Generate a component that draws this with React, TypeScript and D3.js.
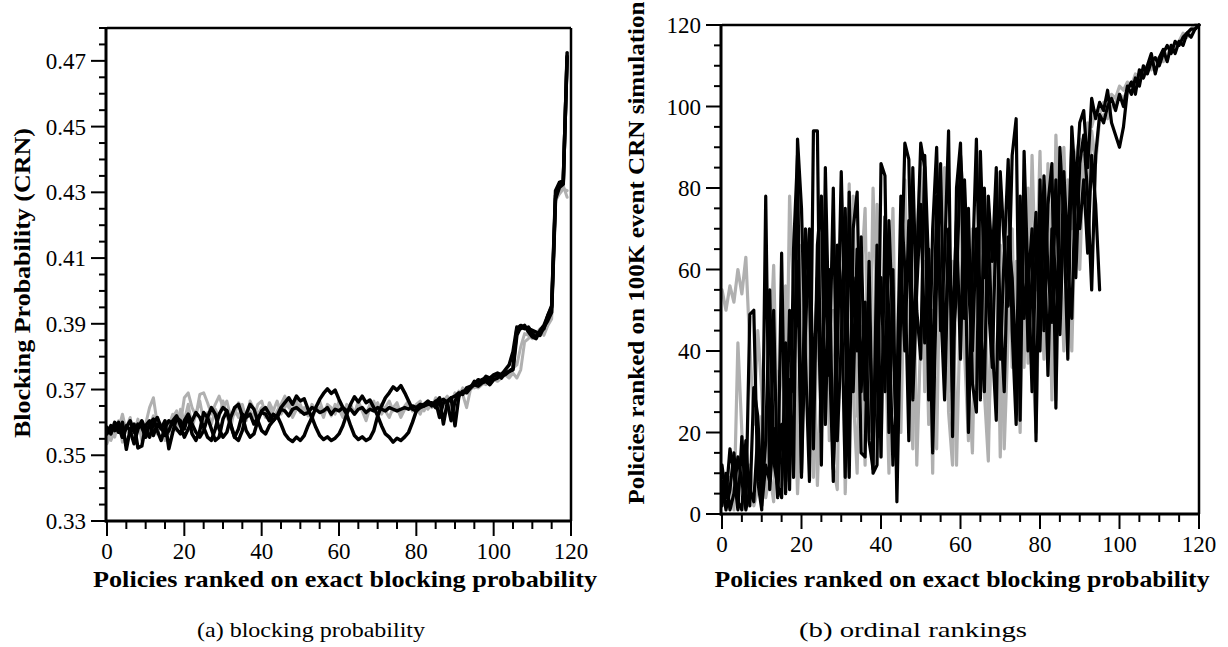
import React from "react";
import * as d3 from "d3";

// ---------- Panel (a): blocking probability (CRN), index = policy rank ----------
const leftBlack1 = [
  0.358, 0.3575, 0.359, 0.357, 0.36, 0.3518, 0.358, 0.3595, 0.3522, 0.3528,
  0.359, 0.3605, 0.356, 0.3595, 0.358, 0.3605, 0.352, 0.357, 0.3615, 0.3605,
  0.358, 0.362, 0.3565, 0.3545, 0.3575, 0.363, 0.3615, 0.358, 0.3545, 0.3555,
  0.361, 0.3635, 0.3595, 0.3555, 0.358, 0.3625, 0.3615, 0.3625, 0.3595, 0.3615,
  0.363, 0.3625, 0.3605, 0.3625, 0.3615, 0.364, 0.3635, 0.362, 0.364, 0.3645,
  0.3635, 0.3625, 0.363, 0.3645, 0.364, 0.363, 0.3635, 0.3645, 0.3625, 0.364,
  0.3635, 0.3645, 0.3635, 0.364, 0.3625, 0.364, 0.3645, 0.363, 0.364, 0.3635,
  0.3645, 0.364, 0.3635, 0.3645, 0.364, 0.3635, 0.364, 0.3645, 0.364, 0.365,
  0.3645, 0.3655, 0.365, 0.366, 0.365, 0.3665, 0.3615, 0.366, 0.3665, 0.3675,
  0.359, 0.368, 0.3695, 0.369, 0.3705, 0.3715, 0.371, 0.372, 0.3725, 0.3715,
  0.373, 0.3735, 0.3745, 0.3745, 0.3755, 0.376, 0.3865, 0.389, 0.3885, 0.389,
  0.387, 0.386, 0.3875, 0.3885, 0.3925, 0.395, 0.429, 0.432, 0.433, 0.4715,
];
const leftBlack2 = [
  0.3565, 0.359, 0.3575, 0.36, 0.3555, 0.3585, 0.3605, 0.357, 0.3595, 0.3585,
  0.3555, 0.3595, 0.361, 0.3575, 0.3545, 0.3585, 0.3605, 0.3595, 0.358, 0.3565,
  0.3605, 0.3625, 0.3595, 0.357, 0.3555, 0.3575, 0.3615, 0.3645, 0.3625, 0.358,
  0.3555, 0.357, 0.3615, 0.3645, 0.3655, 0.362, 0.3575, 0.3555, 0.3565, 0.3605,
  0.3635, 0.3645, 0.3625, 0.3605, 0.362, 0.3645, 0.366, 0.3675, 0.3655, 0.368,
  0.3665, 0.3672, 0.364, 0.3615, 0.3585, 0.356, 0.3548, 0.3556, 0.3545, 0.3552,
  0.3565, 0.359, 0.3625, 0.3655, 0.3678, 0.3662, 0.368, 0.366, 0.3668, 0.3645,
  0.362, 0.359, 0.3565, 0.3555, 0.354, 0.3552, 0.3545, 0.3556, 0.357, 0.36,
  0.3635, 0.3645, 0.365, 0.3655, 0.366, 0.3645, 0.3665, 0.367, 0.366, 0.3605,
  0.3665, 0.3685, 0.369, 0.37, 0.3705, 0.3725, 0.372, 0.373, 0.3735, 0.3725,
  0.374, 0.3745, 0.3735, 0.375, 0.3755, 0.3765, 0.3885, 0.3895, 0.389, 0.3885,
  0.388, 0.3875, 0.3865, 0.389, 0.391, 0.3935, 0.428, 0.4315, 0.4325, 0.4725,
];
const leftBlack3 = [
  0.3585, 0.3565, 0.36, 0.3585, 0.3555, 0.359, 0.3575, 0.3535, 0.358, 0.3605,
  0.3575, 0.3555, 0.3595, 0.3615, 0.3585, 0.356, 0.3575, 0.3605, 0.362, 0.359,
  0.3555, 0.358, 0.3605, 0.363, 0.3615, 0.3585, 0.3555, 0.3545, 0.358, 0.3625,
  0.3645, 0.3635, 0.359, 0.3555, 0.3545, 0.3575, 0.3625, 0.3655, 0.364, 0.3605,
  0.3575, 0.3565, 0.359, 0.3605, 0.362, 0.3595, 0.3565, 0.355, 0.3542, 0.3555,
  0.3545, 0.356, 0.359, 0.3615, 0.3645, 0.367, 0.3688, 0.3702, 0.3688, 0.3698,
  0.367, 0.3645, 0.3625, 0.359, 0.356, 0.3548, 0.3556, 0.3545, 0.3552, 0.3575,
  0.362, 0.365, 0.3675, 0.369, 0.3708, 0.3698, 0.3712, 0.369, 0.3665, 0.364,
  0.3635, 0.365, 0.3655, 0.3665, 0.3655, 0.366, 0.3675, 0.3595, 0.366, 0.3675,
  0.368, 0.369, 0.3685, 0.3705, 0.371, 0.3715, 0.373, 0.3725, 0.374, 0.3735,
  0.3745, 0.375, 0.3745, 0.376, 0.3775, 0.3815, 0.389, 0.3885, 0.3895, 0.3875,
  0.386, 0.3855, 0.388, 0.3895, 0.3925, 0.3955, 0.4305, 0.433, 0.4335, 0.471,
];
const leftGray1 = [
  0.3555, 0.3545, 0.3575, 0.358, 0.3625, 0.357, 0.3595, 0.3565, 0.361, 0.3545,
  0.3595, 0.3645, 0.3675, 0.3595, 0.358, 0.3605, 0.3565, 0.3615, 0.3635, 0.3595,
  0.3675, 0.369, 0.3645, 0.362, 0.3685, 0.369, 0.366, 0.3625, 0.3655, 0.368,
  0.3645, 0.3665, 0.3615, 0.3625, 0.366, 0.3645, 0.362, 0.3635, 0.3615, 0.3655,
  0.3665, 0.3625, 0.3645, 0.3605, 0.3635, 0.3655, 0.368, 0.3645, 0.3635, 0.3665,
  0.363, 0.3645, 0.362, 0.3655, 0.3635, 0.3645, 0.3615, 0.3655, 0.3645, 0.3625,
  0.3665, 0.363, 0.3645, 0.3655, 0.3625, 0.366, 0.364, 0.3625, 0.3655, 0.3645,
  0.366, 0.3625, 0.3645, 0.3665, 0.3635, 0.3645, 0.3615, 0.364, 0.3655, 0.3635,
  0.3645, 0.3625, 0.3655, 0.364, 0.366, 0.3645, 0.3665, 0.3655, 0.3675, 0.364,
  0.3675, 0.3695, 0.3685, 0.3645, 0.37, 0.371, 0.3705, 0.3715, 0.3725, 0.3715,
  0.373, 0.3725, 0.3735, 0.3745, 0.3735, 0.375, 0.3735, 0.376, 0.3845, 0.3855,
  0.3875, 0.3865, 0.388, 0.3865, 0.3895, 0.3915, 0.4275, 0.4295, 0.431, 0.4305,
];
const leftGray2 = [
  0.3535, 0.357, 0.3555, 0.3605, 0.354, 0.3585, 0.3615, 0.355, 0.358, 0.3605,
  0.3555, 0.3585, 0.362, 0.3565, 0.3595, 0.3545, 0.359, 0.3625, 0.3575, 0.364,
  0.3605, 0.3655, 0.3585, 0.3625, 0.3665, 0.3605, 0.363, 0.3595, 0.364, 0.3615,
  0.3665, 0.362, 0.3585, 0.364, 0.3615, 0.3655, 0.3605, 0.3665, 0.364, 0.3625,
  0.3645, 0.3615, 0.366, 0.3635, 0.3665, 0.3625, 0.3645, 0.3665, 0.3615, 0.364,
  0.3655, 0.3625, 0.364, 0.3605, 0.3645, 0.3665, 0.363, 0.3645, 0.362, 0.3655,
  0.364, 0.3615, 0.3655, 0.3645, 0.3625, 0.3665, 0.3635, 0.3605, 0.3645, 0.3665,
  0.3625, 0.3655, 0.3635, 0.3615, 0.3645, 0.366, 0.3625, 0.365, 0.3665, 0.3635,
  0.3655, 0.3665, 0.3635, 0.366, 0.3645, 0.3675, 0.364, 0.3665, 0.368, 0.3655,
  0.369, 0.3675, 0.3705, 0.369, 0.371, 0.3705, 0.3725, 0.372, 0.3715, 0.373,
  0.3745, 0.374, 0.375, 0.3755, 0.3745, 0.3765, 0.3775, 0.383, 0.387, 0.3865,
  0.3855, 0.387, 0.3885, 0.3875, 0.3905, 0.394, 0.4285, 0.4305, 0.432, 0.4285,
];

// ---------- Panel (b): ranks on 100K event CRN simulation, index = exact rank ----------
const rankBlack1 = [
  12, 4, 16, 10, 1, 19, 2, 49, 50, 8,
  1, 78, 6, 21, 4, 64, 5, 33, 9, 92,
  75, 38, 8, 94, 94, 12, 85, 40, 8, 66,
  55, 9, 79, 30, 65, 15, 14, 62, 10, 12,
  86, 83, 20, 60, 3, 52, 91, 87, 40, 62,
  91, 85, 28, 70, 90, 45, 63, 94, 19, 80,
  91, 48, 75, 32, 25, 89, 58, 70, 42, 23,
  84, 66, 51, 88, 97, 23, 89, 56, 70, 18,
  82, 45, 76, 86, 26, 90, 72, 38, 95, 80,
  96, 99, 85, 102, 97, 101, 99, 104, 96, 93,
  90, 95, 104, 106, 103, 109, 107, 110, 113, 108,
  112, 114, 111, 115, 113, 116, 115, 118, 117, 119, 120,
];
const rankBlack2 = [
  8, 1, 6, 15, 3, 1, 18, 2, 31, 24,
  4, 18, 55, 13, 7, 4, 42, 6, 65, 88,
  9, 70, 55, 16, 66, 78, 22, 60, 11, 38,
  84, 45, 9, 70, 79, 30, 52, 18, 11, 66,
  14, 73, 48, 12, 30, 78, 60, 18, 85, 50,
  38, 88, 60, 15, 58, 86, 35, 70, 40, 55,
  88, 72, 20, 60, 92, 47, 30, 78, 62, 85,
  38, 64, 87, 45, 22, 60, 81, 40, 58, 74,
  40, 83, 60, 47, 82, 50, 84, 64, 91, 58,
  86, 93, 78, 55, 88, 98, 96, 100, 102, 99,
  103, 100, 105, 103, 107, 105, 110, 108, 111, 112,
  110, 113, 115, 113, 116, 115, 117, 118, 119, 119, 120,
];
const rankBlack3 = [
  2, 10, 1, 5, 14, 8, 1, 6, 3, 20,
  2, 12, 8, 50, 5, 22, 8, 50, 30, 62,
  10, 45, 70, 30, 58, 20, 62, 34, 80, 18,
  42, 75, 24, 58, 40, 68, 28, 50, 16, 40,
  58, 30, 72, 45, 14, 62, 40, 72, 28, 55,
  76, 42, 65, 30, 78, 52, 28, 66, 45, 72,
  38, 82, 56, 40, 70, 28, 80, 52, 36, 74,
  50, 30, 68, 58, 34, 78, 48, 62, 30, 65,
  55, 72, 34, 70, 58, 44, 75, 60, 48, 84,
  70, 82, 64, 88, 76, 55,
];
const rankGray1 = [
  55, 50, 56, 52, 60, 54, 63, 41, 22, 45,
  30, 8, 38, 61, 20, 42, 10, 78, 54, 12,
  66, 35, 52, 9, 48, 70, 25, 58, 12, 6,
  66, 42, 81, 30, 10, 58, 75, 20, 80, 48,
  14, 62, 35, 75, 22, 55, 82, 44, 16, 68,
  86, 30, 60, 10, 72, 50, 85, 25, 12, 66,
  78, 40, 18, 70, 50, 82, 30, 13, 60, 76,
  14, 54, 84, 36, 62, 20, 70, 37, 88, 55,
  89, 45, 75, 28, 93, 66, 40, 82, 70, 88,
  92, 78, 96, 95, 99, 98, 101, 100, 103, 102,
  105, 104, 106, 105, 108, 107, 109, 110, 109, 111,
  112, 111, 113, 114, 115, 116, 117, 118, 119, 120, 120,
];
const rankGray2 = [
  6, 2, 9, 1, 42, 20, 3, 12, 2, 6,
  24, 4, 10, 3, 35, 7, 56, 18, 40, 5,
  28, 60, 14, 44, 7, 35, 65, 18, 50, 26,
  72, 5, 40, 78, 24, 46, 12, 64, 30, 76,
  25, 45, 10, 58, 35, 20, 66, 30, 75, 12,
  44, 62, 22, 50, 16, 72, 48, 30, 62, 12,
  52, 80, 34, 15, 60, 42, 68, 20, 50, 32,
  66, 16, 44, 70, 26, 58, 36, 80, 42, 20,
  64, 38, 86, 52, 28, 70, 90, 60, 40, 78,
  60, 88, 74, 94, 86, 97, 98, 97, 100, 101,
  103, 102, 104, 106, 105, 108, 107, 109, 110, 112,
  111, 113, 112, 115, 114, 116, 118, 117, 119, 120, 120,
];

// ---------- Tick labels ----------
const xTicks = [0, 20, 40, 60, 80, 100, 120];
const leftYTicks = [0.33, 0.35, 0.37, 0.39, 0.41, 0.43, 0.45, 0.47];
const rightYTicks = [0, 20, 40, 60, 80, 100, 120];

const xTitle = "Policies ranked on exact blocking probability";
const leftYTitle = "Blocking Probability (CRN)";
const rightYTitle = "Policies ranked on 100K event CRN simulation";
const captionA = "(a) blocking probability";
const captionB = "(b) ordinal rankings";

const FONT = "'Liberation Serif', 'Times New Roman', serif";
const BLACK = "#000";
const GRAY = "#b0b0b0";

type Series = { values: number[]; color: string; width: number };

type PanelProps = {
  xRange: [number, number];
  yRange: [number, number]; // [bottom, top] pixels
  yDomain: [number, number];
  yTicks: number[];
  yMinorStep: number;
  yFormat: (v: number) => string;
  series: Series[];
  yTitle: string;
  yTitleX: number;
  yTitleY: number;
  yTitleLen: number;
  xTitleX: number;
  xTitleLen: number;
  caption: string;
  captionX: number;
  captionLen: number;
};

function Panel(p: PanelProps) {
  const x = d3.scaleLinear().domain([0, 120]).range(p.xRange);
  const y = d3.scaleLinear().domain(p.yDomain).range(p.yRange);
  const line = d3
    .line<number>()
    .x((_, i) => x(i))
    .y((d) => y(d))
    .curve(d3.curveLinear);

  const xMinor = d3.range(0, 121, 5).filter((v) => v % 20 !== 0);
  const nMinor = Math.round((p.yDomain[1] - p.yDomain[0]) / p.yMinorStep);
  const yMinor = d3
    .range(0, nMinor + 1)
    .map((k) => p.yDomain[0] + k * p.yMinorStep)
    .filter((v) => !p.yTicks.some((t) => Math.abs(t - v) < p.yMinorStep / 10));

  const [xl, xr] = p.xRange;
  const [yb, yt] = p.yRange;

  return (
    <g>
      <g fill="none" strokeLinejoin="round" strokeLinecap="round">
        {p.series.map((s, i) => (
          <path key={i} d={line(s.values) || ""} stroke={s.color} strokeWidth={s.width} />
        ))}
      </g>
      {/* frame */}
      <line x1={xl} x2={xr} y1={yt} y2={yt} stroke={BLACK} strokeWidth={2.5} />
      <line x1={xr} x2={xr} y1={yt} y2={yb} stroke={BLACK} strokeWidth={2.5} />
      <line x1={xl - 1} x2={xl - 1} y1={yt - 1} y2={yb + 1.5} stroke={BLACK} strokeWidth={3} />
      <line x1={xl - 2} x2={xr + 1} y1={yb} y2={yb} stroke={BLACK} strokeWidth={3} />
      {/* x ticks */}
      {xTicks.map((t) => (
        <g key={"xt" + t}>
          <line x1={x(t)} x2={x(t)} y1={yb} y2={yb + 15} stroke={BLACK} strokeWidth={2} />
          <text x={x(t)} y={yb + 38} textAnchor="middle" fontFamily={FONT} fontSize={23}>
            {t}
          </text>
        </g>
      ))}
      {xMinor.map((t) => (
        <line key={"xm" + t} x1={x(t)} x2={x(t)} y1={yb} y2={yb + 8} stroke={BLACK} strokeWidth={2} />
      ))}
      {/* y ticks */}
      {p.yTicks.map((t) => (
        <g key={"yt" + t}>
          <line x1={xl - 16} x2={xl} y1={y(t)} y2={y(t)} stroke={BLACK} strokeWidth={2} />
          <text
            x={xl - 21}
            y={y(t)}
            dy="0.35em"
            textAnchor="end"
            fontFamily={FONT}
            fontSize={23}
          >
            {p.yFormat(t)}
          </text>
        </g>
      ))}
      {yMinor.map((t) => (
        <line key={"ym" + t} x1={xl - 8} x2={xl} y1={y(t)} y2={y(t)} stroke={BLACK} strokeWidth={2} />
      ))}
      {/* titles */}
      <text
        x={p.xTitleX}
        y={587}
        textAnchor="middle"
        fontFamily={FONT}
        fontWeight="bold"
        fontSize={23}
        textLength={p.xTitleLen}
        lengthAdjust="spacingAndGlyphs"
      >
        {xTitle}
      </text>
      <text
        transform={`translate(${p.yTitleX},${p.yTitleY}) rotate(-90)`}
        textAnchor="middle"
        dy="0.35em"
        fontFamily={FONT}
        fontWeight="bold"
        fontSize={23}
        textLength={p.yTitleLen}
        lengthAdjust="spacingAndGlyphs"
      >
        {p.yTitle}
      </text>
      <text
        x={p.captionX}
        y={637}
        textAnchor="middle"
        fontFamily={FONT}
        fontSize={21}
        textLength={p.captionLen}
        lengthAdjust="spacingAndGlyphs"
      >
        {p.caption}
      </text>
    </g>
  );
}

export default function App() {
  return (
    <svg
      width={1228}
      height={647}
      viewBox="0 0 1228 647"
      style={{ position: "absolute", left: 0, top: 0, background: "#fff" }}
    >
      <rect width={1228} height={647} fill="#fff" />
      <Panel
        xRange={[107, 571]}
        yRange={[521, 28]}
        yDomain={[0.33, 0.48]}
        yTicks={leftYTicks}
        yMinorStep={0.005}
        yFormat={(v) => v.toFixed(2)}
        series={[
          { values: leftGray1, color: GRAY, width: 3 },
          { values: leftGray2, color: GRAY, width: 3 },
          { values: leftBlack1, color: BLACK, width: 3.5 },
          { values: leftBlack2, color: BLACK, width: 3.5 },
          { values: leftBlack3, color: BLACK, width: 3.5 },
        ]}
        yTitle={leftYTitle}
        yTitleX={22}
        yTitleY={283}
        yTitleLen={310}
        xTitleX={345}
        xTitleLen={504}
        caption={captionA}
        captionX={311}
        captionLen={228}
      />
      <Panel
        xRange={[722, 1199]}
        yRange={[514, 25]}
        yDomain={[0, 120]}
        yTicks={rightYTicks}
        yMinorStep={5}
        yFormat={(v) => String(v)}
        series={[
          { values: rankGray1, color: GRAY, width: 3.2 },
          { values: rankGray2, color: GRAY, width: 3.2 },
          { values: rankBlack1, color: BLACK, width: 3.2 },
          { values: rankBlack2, color: BLACK, width: 3.2 },
          { values: rankBlack3, color: BLACK, width: 3.2 },
        ]}
        yTitle={rightYTitle}
        yTitleX={636}
        yTitleY={253}
        yTitleLen={503}
        xTitleX={962}
        xTitleLen={495}
        caption={captionB}
        captionX={913}
        captionLen={228}
      />
    </svg>
  );
}
